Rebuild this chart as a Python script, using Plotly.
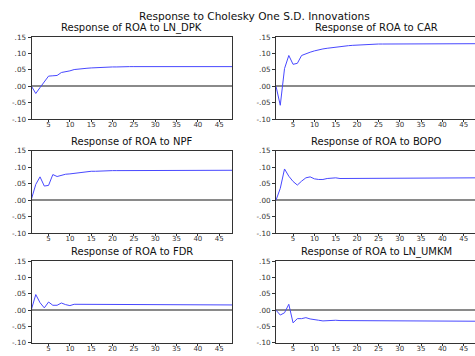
import plotly.graph_objects as go

# ---------------- data ----------------
periods = list(range(1, 49))

main_title = "Response to Cholesky One S.D. Innovations"
panel_titles = [
    "Response of ROA to LN_DPK",
    "Response of ROA to CAR",
    "Response of ROA to NPF",
    "Response of ROA to BOPO",
    "Response of ROA to FDR",
    "Response of ROA to LN_UMKM",
]

resp_dpk = [0.000, -0.022, -0.004, 0.014, 0.031, 0.032, 0.033, 0.042, 0.044, 0.047,
            0.051, 0.053, 0.054, 0.055, 0.056, 0.057, 0.058, 0.058, 0.059, 0.059,
            0.059, 0.060, 0.060, 0.060, 0.060, 0.060, 0.060, 0.060, 0.060, 0.060,
            0.060, 0.060, 0.060, 0.060, 0.060, 0.060, 0.060, 0.060, 0.060, 0.060,
            0.060, 0.060, 0.060, 0.060, 0.060, 0.060, 0.060, 0.060]
resp_car = [0.000, -0.058, 0.054, 0.094, 0.067, 0.070, 0.094, 0.100, 0.104, 0.108,
            0.112, 0.114, 0.116, 0.118, 0.120, 0.122, 0.123, 0.124, 0.125, 0.126,
            0.127, 0.127, 0.128, 0.128, 0.129, 0.129, 0.129, 0.130, 0.130, 0.130,
            0.130, 0.130, 0.130, 0.130, 0.130, 0.130, 0.130, 0.130, 0.130, 0.130,
            0.130, 0.130, 0.130, 0.130, 0.130, 0.130, 0.130, 0.130]
resp_npf = [0.004, 0.048, 0.071, 0.043, 0.045, 0.078, 0.072, 0.076, 0.079, 0.080,
            0.082, 0.084, 0.086, 0.087, 0.088, 0.088, 0.089, 0.089, 0.090, 0.090,
            0.090, 0.090, 0.090, 0.090, 0.090, 0.091, 0.091, 0.091, 0.091, 0.091,
            0.091, 0.091, 0.091, 0.091, 0.091, 0.091, 0.091, 0.091, 0.091, 0.091,
            0.091, 0.091, 0.091, 0.091, 0.091, 0.091, 0.091, 0.091]
resp_bopo = [0.000, 0.036, 0.095, 0.073, 0.057, 0.046, 0.058, 0.068, 0.071, 0.065,
             0.063, 0.063, 0.066, 0.068, 0.068, 0.066, 0.066, 0.068, 0.068, 0.068,
             0.068, 0.068, 0.068, 0.068, 0.068, 0.068, 0.068, 0.068, 0.068, 0.068,
             0.068, 0.068, 0.068, 0.068, 0.068, 0.068, 0.068, 0.068, 0.068, 0.068,
             0.068, 0.068, 0.068, 0.068, 0.068, 0.068, 0.068, 0.068]
resp_fdr = [0.003, 0.048, 0.023, 0.007, 0.025, 0.015, 0.015, 0.022, 0.017, 0.014,
            0.018, 0.018, 0.016, 0.016, 0.016, 0.016, 0.016, 0.016, 0.016, 0.016,
            0.016, 0.016, 0.016, 0.016, 0.016, 0.016, 0.016, 0.016, 0.016, 0.016,
            0.016, 0.016, 0.016, 0.016, 0.016, 0.016, 0.016, 0.016, 0.016, 0.016,
            0.016, 0.016, 0.016, 0.016, 0.016, 0.016, 0.016, 0.016]
resp_umkm = [0.000, -0.015, -0.008, 0.018, -0.039, -0.026, -0.026, -0.023, -0.027, -0.030,
             -0.031, -0.033, -0.032, -0.031, -0.031, -0.032, -0.032, -0.033, -0.033, -0.033,
             -0.033, -0.033, -0.034, -0.034, -0.034, -0.034, -0.034, -0.034, -0.034, -0.034,
             -0.034, -0.034, -0.034, -0.034, -0.034, -0.034, -0.034, -0.034, -0.034, -0.034,
             -0.034, -0.034, -0.034, -0.034, -0.034, -0.034, -0.034, -0.034]

series = [resp_dpk, resp_car, resp_npf, resp_bopo, resp_fdr, resp_umkm]

y_tick_vals = [-0.10, -0.05, 0.00, 0.05, 0.10, 0.15]
y_tick_text = ["-.10", "-.05", ".00", ".05", ".10", ".15"]
x_tick_vals = [5, 10, 15, 20, 25, 30, 35, 40, 45]
x_tick_text = ["5", "10", "15", "20", "25", "30", "35", "40", "45"]

# ---------------- layout geometry ----------------
W, H = 475, 356
FONT = "DejaVu Sans"
LINE_COLOR = "#4848ff"
AXIS_COLOR = "#333333"

col_px = [(31.5, 232.0), (276.0, 475.0)]
row_px = [(34.0, 118.0), (150.7, 235.0), (264.0, 347.5)]
title_y_px = [24.3, 141.0, 254.0]
px_per_unit = (232.0 - 31.5) / 47.0

fig = go.Figure()
annotations = [dict(text=main_title, x=254 / W, y=1 - 12 / H, xref="paper", yref="paper",
                    xanchor="center", yanchor="middle", showarrow=False,
                    font=dict(family=FONT, size=10.6, color="#111111"))]

for i, vals in enumerate(series):
    r, c = divmod(i, 2)
    n = "" if i == 0 else str(i + 1)
    x0, x1 = col_px[c]
    ytop, ybot = row_px[r]
    xmax = 1 + (x1 - x0) / px_per_unit
    fig.add_trace(go.Scatter(x=periods, y=vals, mode="lines",
                             line=dict(color=LINE_COLOR, width=1),
                             xaxis="x" + n, yaxis="y" + n, showlegend=False,
                             hoverinfo="skip"))
    fig.layout["xaxis" + n] = dict(
        domain=[x0 / W, x1 / W], anchor="y" + n, range=[1, xmax],
        tickmode="array", tickvals=x_tick_vals, ticktext=x_tick_text,
        ticks="outside", ticklen=2, tickcolor=AXIS_COLOR, ticklabelstandoff=-3,
        showline=True, linecolor=AXIS_COLOR, linewidth=1, mirror=True,
        showgrid=False, zeroline=False,
        tickfont=dict(family=FONT, size=7, color="#333333"))
    fig.layout["yaxis" + n] = dict(
        domain=[1 - ybot / H, 1 - ytop / H], anchor="x" + n, range=[-0.10, 0.15],
        tickmode="array", tickvals=y_tick_vals, ticktext=y_tick_text,
        ticks="outside", ticklen=3, tickcolor=AXIS_COLOR,
        showline=True, linecolor=AXIS_COLOR, linewidth=1, mirror=(c == 0),
        showgrid=False, zeroline=True, zerolinecolor="#8a8a8a", zerolinewidth=1.5,
        tickfont=dict(family=FONT, size=7.2, color="#333333"))
    center_px = (x0 + x0 + 47 * px_per_unit) / 2
    annotations.append(dict(text=panel_titles[i], x=center_px / W, y=1 - title_y_px[r] / H,
                            xref="paper", yref="paper", xanchor="center", yanchor="middle",
                            showarrow=False, font=dict(family=FONT, size=10, color="#111111")))

fig.update_layout(width=W, height=H, margin=dict(l=0, r=0, t=0, b=0),
                  paper_bgcolor="white", plot_bgcolor="white",
                  annotations=annotations, showlegend=False)

fig.write_html("out.html", config={"displayModeBar": False},
               post_script="document.body.style.margin='0';document.body.style.overflow='hidden';")
